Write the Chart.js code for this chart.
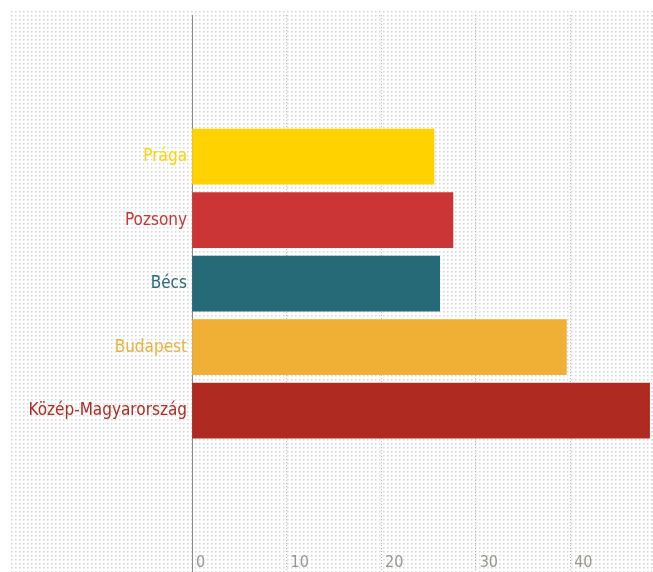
<!DOCTYPE html>
<html>
<head>
<meta charset="utf-8">
<script src="https://cdn.jsdelivr.net/npm/chart.js@4"></script>
<style>
  html, body { margin: 0; padding: 0; background: #fff; }
  #wrap { width: 653px; height: 572px; position: relative; }
</style>
</head>
<body>
<div id="wrap"><canvas id="graph"></canvas></div>
<script>
// donnees
const categories = ['Prága', 'Pozsony', 'Bécs', 'Budapest', 'Közép-Magyarország'];
const valeurs = [25.6, 27.6, 26.2, 39.6, 48.4];
const couleurs = ['#FFD200', '#CC3535', '#266A77', '#F0AF35', '#AF2A20'];
const ticksX = [0, 10, 20, 30, 40];

// fond a petits points
const fondPoints = {
  id: 'fondPoints',
  beforeDraw(chart) {
    const c = chart.ctx;
    c.save();
    c.fillStyle = '#d6d6d6';
    for (let y = 11; y < chart.height; y += 4) {
      for (let x = 11; x < chart.width; x += 4) {
        c.fillRect(x, y, 1.5, 1.5);
      }
    }
    c.restore();
  }
};

const police = '"DejaVu Sans Condensed", "Liberation Sans Narrow", sans-serif';

new Chart(document.getElementById('graph'), {
  type: 'bar',
  data: {
    datasets: [{
      data: valeurs.map((v, i) => ({ x: v, y: i })),
      backgroundColor: couleurs,
      barThickness: 55
    }]
  },
  options: {
    indexAxis: 'y',
    responsive: true,
    maintainAspectRatio: false,
    animation: false,
    layout: { padding: { top: 9, left: 0, right: 0, bottom: 0 } },
    plugins: { legend: { display: false }, tooltip: { enabled: false } },
    scales: {
      x: {
        type: 'linear',
        min: 0,
        max: 48.76,
        afterBuildTicks: (s) => { s.ticks = ticksX.map(v => ({ value: v })); },
        afterFit: (s) => { s.height = 27; },
        border: { display: false, dash: [1, 2] },
        grid: {
          color: (c) => c.tick && c.tick.value === 0 ? '#8a8a8a' : '#b0b0b0',
          tickColor: (c) => c.tick && c.tick.value === 0 ? '#8a8a8a' : '#b0b0b0',
          tickBorderDash: (c) => c.tick && c.tick.value === 0 ? [] : [1, 2],
          tickLength: 27
        },
        ticks: {
          align: 'start',
          labelOffset: 4,
          padding: -19,
          color: '#9a958e',
          font: { family: police, size: 16 }
        }
      },
      y: {
        type: 'linear',
        reverse: true,
        offset: false,
        min: -2.227,
        max: 6.117,
        afterBuildTicks: (s) => { s.ticks = categories.map((c, i) => ({ value: i })); },
        afterFit: (s) => { s.width = 192; },
        border: { display: true, color: '#8a8a8a', width: 1 },
        grid: { display: false, drawTicks: false, offset: false },
        ticks: {
          padding: 5,
          callback: (v) => categories[v],
          color: (c) => couleurs[c.index],
          font: { family: police, size: 17 }
        }
      }
    }
  },
  plugins: [fondPoints]
});
</script>
</body>
</html>
